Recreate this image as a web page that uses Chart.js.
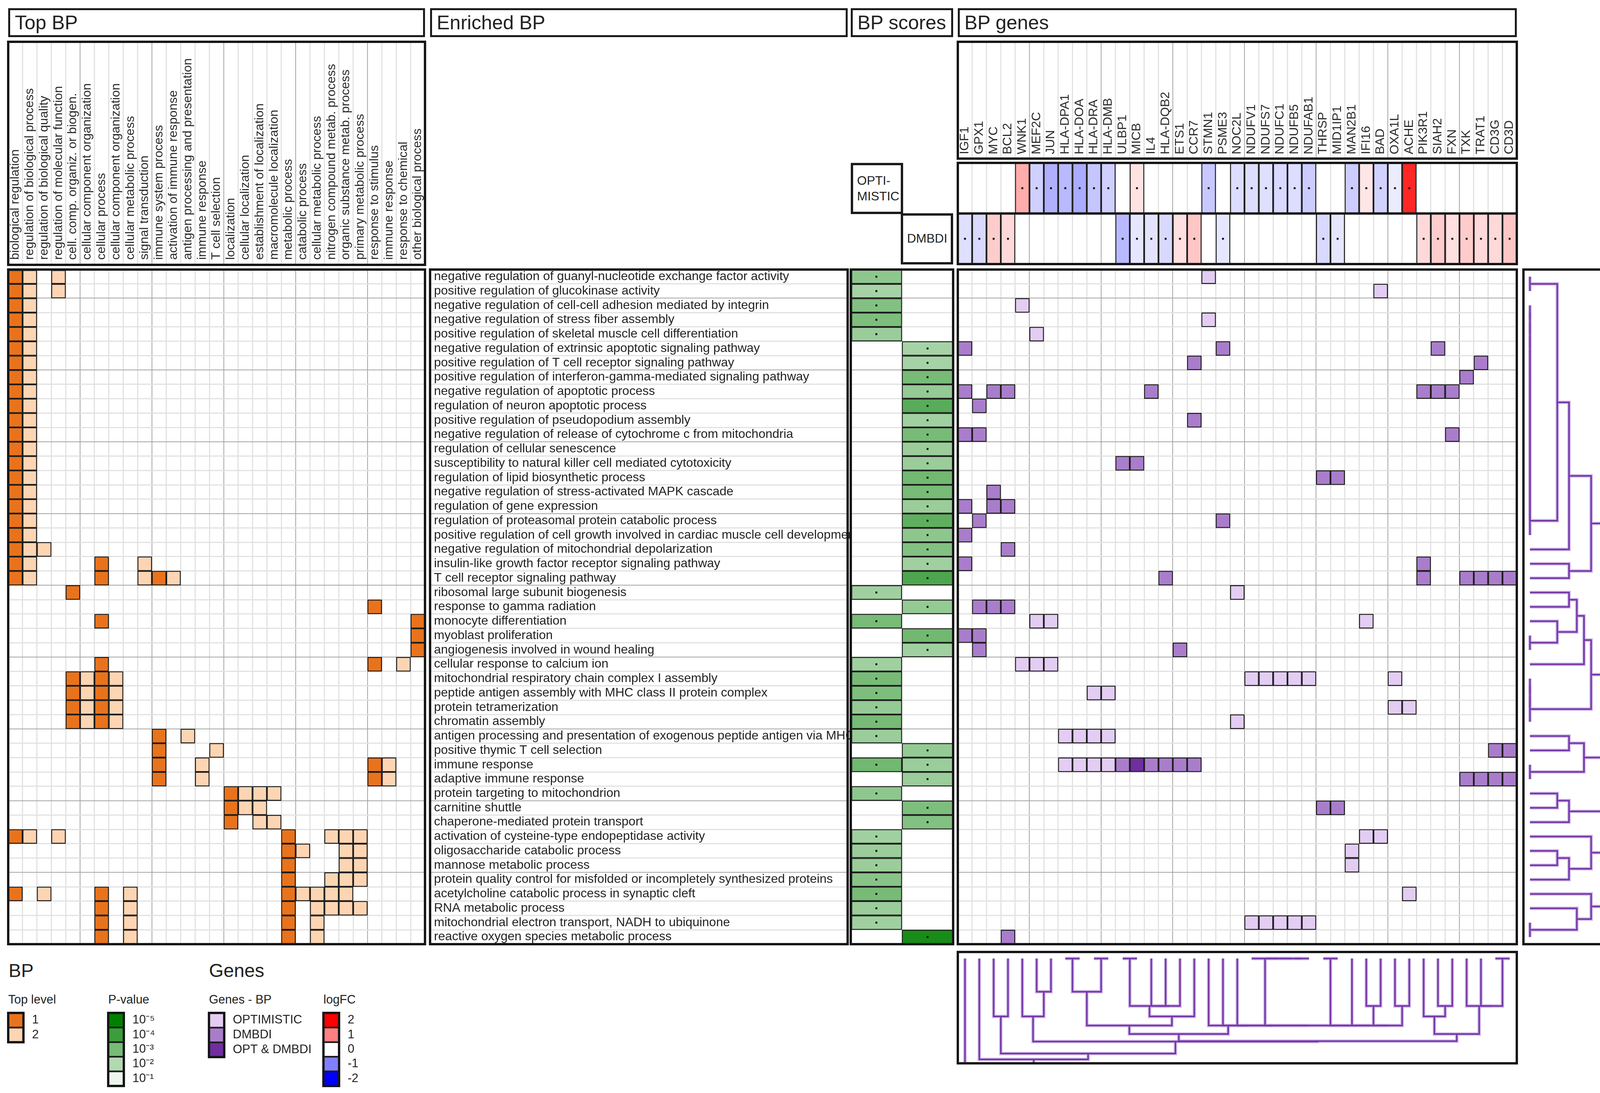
<!DOCTYPE html>
<html>
<head>
<meta charset="utf-8">
<title>Enriched BP overview</title>
<script src="https://cdn.jsdelivr.net/npm/chart.js@4.4.1/dist/chart.umd.min.js"></script>
<style>
  html, body { margin: 0; padding: 0; background: #fff; }
  body { position: relative; width: 4211px; height: 2798px; overflow: hidden;
         font-family: "Liberation Sans", Arial, sans-serif; color: #222; }
  .hdr { position: absolute; box-sizing: border-box; border: 5px solid #1a1a1a; font-size: 50px;
         line-height: 64px; padding-left: 12px; white-space: nowrap; }
  .tag { position: absolute; box-sizing: border-box; border: 6px solid #1a1a1a; font-size: 32px;
         line-height: 40px; padding-left: 10px; white-space: nowrap; }
  .txt { position: absolute; white-space: nowrap; line-height: 1; }
</style>
</head>
<body>
<div class="hdr" style="left:21px;top:21px;width:1067px;height:74px">Top BP</div>
<div class="hdr" style="left:1101px;top:21px;width:1069px;height:74px">Enriched BP</div>
<div class="hdr" style="left:2178px;top:21px;width:262px;height:74px">BP scores</div>
<div class="hdr" style="left:2452px;top:21px;width:1431px;height:74px">BP genes</div>
<div class="tag" style="left:2178px;top:417px;width:134px;height:131px;padding-top:19px">OPTI-<br>MISTIC</div>
<div class="tag" style="left:2306px;top:546px;width:134px;height:131px;padding-top:38px">DMBDI</div>
<div class="txt" style="left:22px;top:2461px;font-size:48px">BP</div>
<div class="txt" style="left:535px;top:2461px;font-size:48px">Genes</div>
<div class="txt" style="left:21px;top:2543px;font-size:31px">Top level</div>
<div class="txt" style="left:277px;top:2543px;font-size:31px">P-value</div>
<div class="txt" style="left:535px;top:2543px;font-size:31px">Genes - BP</div>
<div class="txt" style="left:828px;top:2543px;font-size:31px">logFC</div>
<script>
// ---------------- data ----------------
const topCols = ['biological regulation', 'regulation of biological process', 'regulation of biological quality',
  'regulation of molecular function', 'cell. comp. organiz. or biogen.', 'cellular component organization',
  'cellular process', 'cellular component organization', 'cellular metabolic process', 'signal transduction',
  'immune system process', 'activation of immune response', 'antigen processing and presentation',
  'immune response', 'T cell selection', 'localization', 'cellular localization', 'establishment of localization',
  'macromolecule localization', 'metabolic process', 'catabolic process', 'cellular metabolic process',
  'nitrogen compound metab. process', 'organic substance metab. process', 'primary metabolic process',
  'response to stimulus', 'immune response', 'response to chemical', 'other biological process'];

const bpTerms = [
  'negative regulation of guanyl-nucleotide exchange factor activity',
  'positive regulation of glucokinase activity',
  'negative regulation of cell-cell adhesion mediated by integrin',
  'negative regulation of stress fiber assembly',
  'positive regulation of skeletal muscle cell differentiation',
  'negative regulation of extrinsic apoptotic signaling pathway',
  'positive regulation of T cell receptor signaling pathway',
  'positive regulation of interferon-gamma-mediated signaling pathway',
  'negative regulation of apoptotic process',
  'regulation of neuron apoptotic process',
  'positive regulation of pseudopodium assembly',
  'negative regulation of release of cytochrome c from mitochondria',
  'regulation of cellular senescence',
  'susceptibility to natural killer cell mediated cytotoxicity',
  'regulation of lipid biosynthetic process',
  'negative regulation of stress-activated MAPK cascade',
  'regulation of gene expression',
  'regulation of proteasomal protein catabolic process',
  'positive regulation of cell growth involved in cardiac muscle cell development',
  'negative regulation of mitochondrial depolarization',
  'insulin-like growth factor receptor signaling pathway',
  'T cell receptor signaling pathway',
  'ribosomal large subunit biogenesis',
  'response to gamma radiation',
  'monocyte differentiation',
  'myoblast proliferation',
  'angiogenesis involved in wound healing',
  'cellular response to calcium ion',
  'mitochondrial respiratory chain complex I assembly',
  'peptide antigen assembly with MHC class II protein complex',
  'protein tetramerization',
  'chromatin assembly',
  'antigen processing and presentation of exogenous peptide antigen via MHC class II',
  'positive thymic T cell selection',
  'immune response',
  'adaptive immune response',
  'protein targeting to mitochondrion',
  'carnitine shuttle',
  'chaperone-mediated protein transport',
  'activation of cysteine-type endopeptidase activity',
  'oligosaccharide catabolic process',
  'mannose metabolic process',
  'protein quality control for misfolded or incompletely synthesized proteins',
  'acetylcholine catabolic process in synaptic cleft',
  'RNA metabolic process',
  'mitochondrial electron transport, NADH to ubiquinone',
  'reactive oxygen species metabolic process'];

const genes = ['IGF1', 'GPX1', 'MYC', 'BCL2', 'WNK1', 'MEF2C', 'JUN', 'HLA-DPA1', 'HLA-DOA', 'HLA-DRA',
  'HLA-DMB', 'ULBP1', 'MICB', 'IL4', 'HLA-DQB2', 'ETS1', 'CCR7', 'STMN1', 'PSME3', 'NOC2L', 'NDUFV1',
  'NDUFS7', 'NDUFC1', 'NDUFB5', 'NDUFAB1', 'THRSP', 'MID1IP1', 'MAN2B1', 'IFI16', 'BAD', 'OXA1L', 'ACHE',
  'PIK3R1', 'SIAH2', 'FXN', 'TXK', 'TRAT1', 'CD3G', 'CD3D'];

// top-level membership per enriched term (column indexes into topCols)
const topLevel1 = [[0], [0], [0], [0], [0], [0], [0], [0], [0], [0], [0], [0], [0], [0], [0], [0], [0], [0],
  [0], [0], [0, 6], [0, 6, 10], [4], [25], [6, 28], [28], [28], [6, 25], [4, 6], [4, 6], [4, 6], [4, 6],
  [10], [10], [10, 25], [10, 25], [15], [15], [15], [0, 19], [19], [19], [19], [0, 6, 19], [6, 19],
  [6, 19], [6, 19]];
const topLevel2 = [[1, 3], [1, 3], [1], [1], [1], [1], [1], [1], [1], [1], [1], [1], [1], [1], [1], [1], [1],
  [1], [1], [1, 2], [1, 9], [1, 9, 11], [], [], [], [], [], [27], [5, 7], [5, 7], [5, 7], [5, 7], [12],
  [14], [13, 26], [13, 26], [16, 17, 18], [16, 17], [17, 18], [1, 3, 22, 23, 24], [20, 23, 24], [23, 24],
  [22, 23, 24], [2, 8, 20, 21, 22, 23], [8, 21, 22, 23, 24], [8, 21], [8, 21]];

// -log10(p) per enriched term
const scoreOpt = [2.6, 2.2, 2.8, 2.9, 2.4, null, null, null, null, null, null, null, null, null, null, null,
  null, null, null, null, null, null, 2.3, null, 3.0, null, null, 2.3, 3.0, 2.9, 2.5, 3.0, 2.4, null, 3.1,
  null, 2.6, null, null, 2.3, 2.4, 2.4, 2.7, 3.0, 2.4, 2.3, null];
const scoreDmb = [null, null, null, null, null, 2.2, 2.2, 3.0, 2.5, 3.5, 2.3, 3.0, 2.4, 2.4, 3.1, 3.0, 2.4,
  3.4, 2.6, 2.8, 2.3, 3.7, null, 2.5, null, 3.1, 2.3, null, null, null, null, null, null, 2.5, 2.4, 2.4,
  null, 2.9, 2.8, null, null, null, null, null, null, null, 4.6];

// genes of each term (row -> gene column indexes)
const geneOpt = {0: [17], 1: [29], 2: [4], 3: [17], 4: [5], 22: [19], 24: [5, 6, 28], 27: [4, 5, 6],
  28: [20, 21, 22, 23, 24, 30], 29: [9, 10], 30: [30, 31], 31: [19], 32: [7, 8, 9, 10], 34: [7, 8, 9, 10],
  39: [28, 29], 40: [27], 41: [27], 43: [31], 45: [20, 21, 22, 23, 24]};
const geneDmb = {5: [0, 18, 33], 6: [16, 36], 7: [35], 8: [0, 2, 3, 13, 32, 33, 34], 9: [1], 10: [16],
  11: [0, 1, 34], 13: [11, 12], 14: [25, 26], 15: [2], 16: [0, 2, 3], 17: [1, 18], 18: [0], 19: [3],
  20: [0, 32], 21: [14, 32, 35, 36, 37, 38], 23: [1, 2, 3], 25: [0, 1], 26: [1, 15], 33: [37, 38],
  34: [11, 13, 14, 15, 16], 35: [35, 36, 37, 38], 37: [25, 26], 46: [3]};
const geneBoth = {34: [12]};

// logFC per gene
const fcOpt = [null, null, null, null, 0.65, -0.37, -0.62, -0.55, -0.66, -0.45, -0.37, null, 0.22, null, null,
  null, null, -0.43, null, -0.27, -0.27, -0.25, -0.3, -0.27, -0.4, null, null, -0.4, 0.2, -0.35, -0.15, 1.7,
  null, null, null, null, null, null, null];
const fcDmb = [-0.25, -0.3, 0.4, 0.3, null, null, null, null, null, null, null, -0.55, -0.2, -0.22, -0.3, 0.25,
  0.45, null, -0.2, null, null, null, null, null, null, -0.3, -0.2, null, null, null, null, null, 0.3, 0.4,
  0.25, 0.4, 0.3, 0.3, 0.45];

// dendrograms: [height, left, right]; number = leaf; chain = zero-height group
const rowTree = [7.5,
  [6.6,
    [5.95,
      [5.9,
        [4.7, [3.0, [2.1, {chain: [0, 1]}, {chain: [2, 3, 4, 5, 6, 7, 8, 9, 10, 11, 12, 13, 14, 15, 16, 17, 18]}], 19],
              [3.0, 20, 21]],
        [4.7, [4.15, [3.6, [3.0, 22, 23], [2.1, 24, {chain: [25, 26]}]], 27], {chain: [28, 29, 30, 31]}]],
      [4.15, [3.0, 32, 33], {chain: [34, 35]}]],
    [3.0, [2.1, 36, 37], 38]],
  [6.25,
    [4.7, 39, [3.0, [2.1, 40, 41], 42]],
    [4.7, 43, [3.6, 44, {chain: [45, 46]}]]]];

const geneTree = [9.5, 0,
  [7.75, 1,
    [7.3, [4.45, 2, 3],
      [6.38, [4.45, 4, [2.55, 5, 6]],
        [6.35,
          [5.8,
            [5.15, [2.55, {chain: [7, 8]}, {chain: [9, 10]}],
                   [4.45, [3.65, {chain: [11, 12]}, [3.65, [3.65, 13, 14], 15]], 16]],
            [5.15, 17, [5.15, 18, [5.15, 19, [5.15, {chainR: [20, 21, 22, 23, 24]},
              [5.15, {chain: [25, 26]}, [5.15, 27, [5.15, [3.65, 28, 29], [3.65, 30, 31]]]]]]]]],
          [5.8, [4.45, 32, [3.65, 33, 34]], [3.65, 35, [3.65, 36, {chain: [37, 38]}]]]]]]]];

const topLevels = ['1', '2'];
const pvalTicks = ['10⁻⁵', '10⁻⁴', '10⁻³', '10⁻²', '10⁻¹'];
const pvalLevels = [5, 4, 3, 2, 1];
const geneKinds = ['OPTIMISTIC', 'DMBDI', 'OPT & DMBDI'];
const fcTicks = ['2', '1', '0', '-1', '-2'];
const fcLevels = [2, 1, 0, -1, -2];

// ---------------- style ----------------
const PAD = 8, FRAME = 6, LABEL_PX = 32;
const LIGHT = '#e2e2e2', DARK = '#a5a5a5';
const ORANGE = ['#e8731c', '#fdd5b3'];
const PURPLE = ['#e3cdf3', '#a97dcb', '#6f2f9f'];
const NROW = bpTerms.length;

Chart.defaults.font.family = '"Liberation Sans", Arial, sans-serif';
Chart.defaults.color = '#222';

function green(v) {
  const t = Math.min(1, 0.07 + 0.2325 * (v - 1));
  const r = Math.round(255 * (1 - t)), g = Math.round(255 - 127 * t);
  return `rgb(${r},${g},${r})`;
}
function fcColor(v) {
  const t = Math.min(1, Math.abs(v) / 2), k = Math.round(255 * (1 - t));
  return v >= 0 ? `rgb(255,${k},${k})` : `rgb(${k},${k},255)`;
}

const framePlugin = {
  id: 'frames',
  beforeDraw(chart, args, o) {
    if (!o.labelBox) return;
    const {ctx, chartArea: a} = chart, sx = chart.scales.x, n = sx.getLabels().length;
    ctx.save();
    for (let b = 1; b < n; b++) {
      const x = sx.getPixelForValue(b - 0.5);
      ctx.strokeStyle = b % 5 === 0 ? DARK : LIGHT;
      ctx.lineWidth = b % 5 === 0 ? 2 : 3;
      ctx.beginPath(); ctx.moveTo(x, PAD); ctx.lineTo(x, a.top - o.labelBox); ctx.stroke();
    }
    ctx.restore();
  },
  afterDraw(chart, args, o) {
    const {ctx, chartArea: a} = chart;
    ctx.save();
    ctx.strokeStyle = '#161616';
    ctx.lineWidth = FRAME;
    ctx.strokeRect(a.left, a.top, a.right - a.left, a.bottom - a.top);
    if (o.labelBox) ctx.strokeRect(a.left, PAD, a.right - a.left, a.top - o.labelBox - PAD);
    if (o.split) {
      const y = chart.scales.y.getPixelForValue(o.split);
      ctx.beginPath(); ctx.moveTo(a.left, y); ctx.lineTo(a.right, y); ctx.stroke();
    }
    ctx.restore();
  }
};
Chart.register(framePlugin);

function makeChart(area, ext, config) {
  const e = Object.assign({top: 0, left: 0, right: 0, bottom: 0}, ext);
  const padR = e.padRight != null ? e.padRight : PAD;
  const box = document.createElement('div');
  const left = area[0] - PAD - e.left, top = area[1] - PAD - e.top;
  const w = area[2] - area[0] + PAD + padR + e.left + e.right;
  const h = area[3] - area[1] + 2 * PAD + e.top + e.bottom;
  box.style.cssText = `position:absolute;left:${left}px;top:${top}px;width:${w}px;height:${h}px`;
  const canvas = document.createElement('canvas');
  box.appendChild(canvas);
  document.body.appendChild(box);
  config.options = Object.assign({
    responsive: true, maintainAspectRatio: false, animation: false, devicePixelRatio: 1, events: [],
    layout: {padding: {left: PAD, top: PAD, right: padR, bottom: PAD}}
  }, config.options);
  config.options.plugins = Object.assign({legend: {display: false}, tooltip: {enabled: false}}, config.options.plugins);
  return new Chart(canvas, config);
}

// fixed axis size, and no extra room reserved for half labels
const fixW = w => s => { s.width = w; s.paddingTop = s.paddingBottom = s.paddingLeft = s.paddingRight = 0; };
const fixH = h => s => { s.height = h; s.paddingTop = s.paddingBottom = s.paddingLeft = s.paddingRight = 0; };

function cellSet(data, color) {
  return {data, backgroundColor: color, borderColor: '#1c1c1c', borderWidth: 2.5, borderSkipped: false,
    barPercentage: 1, categoryPercentage: 1, grouped: false, order: 1};
}
function dotSet(data) {
  return {type: 'scatter', data, pointStyle: 'rect', pointRadius: 3.5, pointBackgroundColor: '#141414',
    pointBorderWidth: 0, order: -1};
}
const colGrid = () => ({offset: true, drawTicks: false,
  color: c => c.index % 5 === 0 ? DARK : LIGHT, lineWidth: c => c.index % 5 === 0 ? 2 : 3});
const rowDark = v => (NROW - v) % 5 === 0;
const rowAxis = () => ({type: 'linear', min: 0, max: NROW, reverse: true,
  ticks: {display: false, stepSize: 1}, border: {display: false},
  grid: {drawTicks: false, color: c => rowDark(c.tick.value) ? DARK : LIGHT,
         lineWidth: c => rowDark(c.tick.value) ? 2 : 3},
  afterFit: fixW(0)});
const rowCatGrid = () => ({offset: true, drawTicks: false,
  color: c => c.index !== undefined && rowDark(c.index) ? DARK : LIGHT,
  lineWidth: c => c.index !== undefined && rowDark(c.index) ? 2 : 3});
function colLabels(h, pad, names) {
  const ticks = {autoSkip: false, minRotation: 90, maxRotation: 90, padding: pad, font: {size: LABEL_PX},
    color: '#2a2a2a', labelOffset: LABEL_PX * 1.2};
  if (names) ticks.callback = v => names[v];
  return {type: 'category', position: 'top', offset: true, grid: colGrid(), border: {display: false},
    ticks, afterFit: fixH(h)};
}

// ---------------- Top BP matrix ----------------
const topKeys = topCols.map((n, i) => String(i));
const topCells = lists => lists.flatMap((cs, r) => cs.map(c => ({x: topKeys[c], y: [r, r + 1]})));
makeChart([21, 690, 1088, 2417], {top: 583}, {
  type: 'bar',
  data: {labels: topKeys, datasets: [cellSet(topCells(topLevel1), ORANGE[0]), cellSet(topCells(topLevel2), ORANGE[1])]},
  options: {
    plugins: {frames: {labelBox: 12}},
    scales: {x: colLabels(583, 25, topCols), y: rowAxis()}
  }
});

// ---------------- Enriched BP labels ----------------
makeChart([1101, 690, 2170, 2417], {padRight: 8}, {
  type: 'bar',
  data: {labels: bpTerms, datasets: []},
  options: {
    indexAxis: 'y',
    plugins: {frames: {}},
    scales: {
      x: {type: 'linear', display: false},
      y: {type: 'category', offset: true, grid: rowCatGrid(), border: {display: false},
          ticks: {mirror: true, padding: 10, autoSkip: false, font: {size: LABEL_PX}, color: '#222'},
          afterFit: fixW(0)}
    }
  }
});

// ---------------- BP scores ----------------
const scoreCells = (arr, c) => arr.map((v, r) => v == null ? null : {y: bpTerms[r], x: [c, c + 1], v}).filter(Boolean);
const scoreDots = (arr, c) => arr.map((v, r) => v == null ? null : {y: bpTerms[r], x: c + 0.5}).filter(Boolean);
const greenFill = c => c.raw ? green(c.raw.v) : '#fff';
makeChart([2178, 690, 2440, 2417], {}, {
  type: 'bar',
  data: {labels: bpTerms, datasets: [
    cellSet(scoreCells(scoreOpt, 0), greenFill), cellSet(scoreCells(scoreDmb, 1), greenFill),
    dotSet(scoreDots(scoreOpt, 0).concat(scoreDots(scoreDmb, 1)))]},
  options: {
    indexAxis: 'y',
    plugins: {frames: {}},
    scales: {
      x: {type: 'linear', min: 0, max: 2, ticks: {display: false, stepSize: 1}, border: {display: false},
          grid: {drawTicks: false, color: LIGHT, lineWidth: 3}, afterFit: fixH(0)},
      y: {type: 'category', offset: true, grid: rowCatGrid(), border: {display: false}, ticks: {display: false},
          afterFit: fixW(0)}
    }
  }
});

// ---------------- logFC rows + gene labels ----------------
const fcCells = (arr, r) => arr.map((v, c) => v == null ? null : {x: genes[c], y: [r, r + 1], v}).filter(Boolean);
const fcDots = (arr, r) => arr.map((v, c) => v == null ? null : {x: genes[c], y: r + 0.5}).filter(Boolean);
const fcFill = c => c.raw ? fcColor(c.raw.v) : '#fff';
makeChart([2452, 417, 3883, 676], {top: 310}, {
  type: 'bar',
  data: {labels: genes, datasets: [cellSet(fcCells(fcOpt, 0), fcFill), cellSet(fcCells(fcDmb, 1), fcFill),
    dotSet(fcDots(fcOpt, 0).concat(fcDots(fcDmb, 1)))]},
  options: {
    plugins: {frames: {labelBox: 11, split: 1}},
    scales: {x: colLabels(310, 22), y: {type: 'linear', min: 0, max: 2, reverse: true, display: false}}
  }
});

// ---------------- gene matrix ----------------
const geneCells = obj => Object.keys(obj).flatMap(r => obj[r].map(c => ({x: genes[c], y: [+r, +r + 1]})));
makeChart([2452, 690, 3883, 2417], {}, {
  type: 'bar',
  data: {labels: genes, datasets: [cellSet(geneCells(geneOpt), PURPLE[0]), cellSet(geneCells(geneDmb), PURPLE[1]),
    cellSet(geneCells(geneBoth), PURPLE[2])]},
  options: {
    plugins: {frames: {}},
    scales: {
      x: {type: 'category', offset: true, grid: colGrid(), border: {display: false}, ticks: {display: false},
          afterFit: fixH(0)},
      y: rowAxis()
    }
  }
});

// ---------------- dendrograms ----------------
function join(h, a, b) {
  return {pos: (a.pos + b.pos) / 2, h, segs: a.segs.concat(b.segs, [[[a.pos, a.h], [a.pos, h], [b.pos, h], [b.pos, b.h]]])};
}
function build(n) {
  if (typeof n === 'number') return {pos: n + 0.5, h: 0, segs: []};
  if (n.chain) return n.chain.map(build).reduce((acc, x) => join(0, acc, x));
  if (n.chainR) return n.chainR.map(build).reduceRight((acc, x) => join(0, x, acc));
  return join(n[0], build(n[1]), build(n[2]));
}
function dendroSets(tree, toXY) {
  const segs = build(tree).segs, out = [];
  [['#d2bde9', 9, 2], ['#7436a8', 4, 1]].forEach(([col, w, order]) => segs.forEach(s => out.push({
    data: s.map(([p, h]) => toXY(p, h)), showLine: true, borderColor: col, borderWidth: w, order,
    pointRadius: 0, fill: false, clip: 0, borderJoinStyle: 'miter'})));
  return out;
}
makeChart([3900, 690, 4192, 2417], {}, {
  type: 'scatter',
  data: {datasets: dendroSets(rowTree, (p, h) => ({x: h, y: p}))},
  options: {plugins: {frames: {}}, scales: {
    x: {type: 'linear', min: -0.5, max: 8.26, display: false},
    y: {type: 'linear', min: 0, max: NROW, reverse: true, display: false}}}
});
makeChart([2452, 2437, 3883, 2722], {}, {
  type: 'scatter',
  data: {datasets: dendroSets(geneTree, (p, h) => ({x: p, y: h}))},
  options: {plugins: {frames: {}}, scales: {
    x: {type: 'linear', min: 0, max: genes.length, display: false},
    y: {type: 'linear', min: -0.5, max: 8.05, reverse: true, display: false}}}
});

// ---------------- legends ----------------
function legend(area, labels, colors, labelW) {
  return makeChart(area, {right: labelW}, {
    type: 'bar',
    data: {labels, datasets: [cellSet(labels.map(l => ({y: l, x: [0, 1]})), colors)]},
    options: {
      indexAxis: 'y',
      plugins: {frames: {}},
      scales: {
        x: {type: 'linear', min: 0, max: 1, display: false},
        y: {type: 'category', position: 'right', offset: true, grid: {display: false}, border: {display: false},
            ticks: {autoSkip: false, padding: 14, font: {size: 31}, color: '#222'},
            afterFit: fixW(labelW)}
      }
    }
  });
}
legend([21, 2593, 60, 2668], topLevels, ORANGE, 60);
legend([277, 2593, 317, 2780], pvalTicks, pvalLevels.map(green), 110);
legend([535, 2593, 574, 2706], geneKinds, PURPLE, 260);
legend([828, 2593, 868, 2780], fcTicks, fcLevels.map(fcColor), 70);
</script>
</body>
</html>
